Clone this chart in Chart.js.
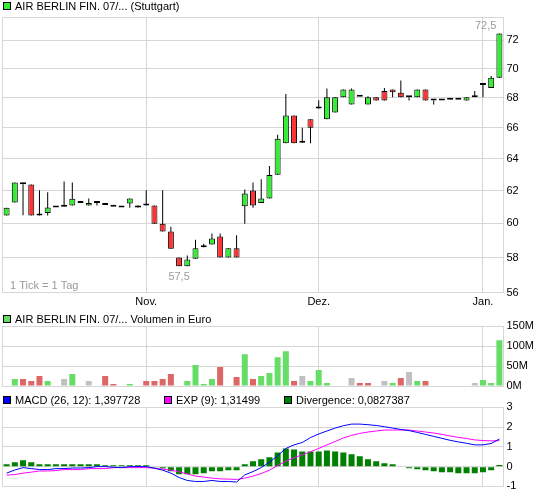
<!DOCTYPE html>
<html>
<head>
<meta charset="utf-8">
<title>AIR BERLIN FIN. 07/... (Stuttgart)</title>
<script src="https://cdn.jsdelivr.net/npm/chart.js@4/dist/chart.umd.min.js"></script>
<style>
  html, body { margin: 0; padding: 0; background: #fff; }
  #wrap { position: relative; width: 545px; height: 496px; overflow: hidden;
          font-family: "Liberation Sans", Arial, sans-serif; font-size: 11px; color: #000; }
  #wrap canvas { position: absolute; left: 0; top: 0; }
  .leg { position: absolute; white-space: nowrap; line-height: 13px; }
  .sw { position: absolute; width: 6px; height: 6px; border: 1px solid #000; }
</style>
</head>
<body>
<div id="wrap">
  <canvas id="price" width="545" height="496"></canvas>
  <canvas id="volume" width="545" height="496"></canvas>
  <canvas id="macd" width="545" height="496"></canvas>

  <div class="sw" style="left:3px;top:2px;background:#33ee33"></div>
  <div class="leg" style="left:15px;top:0px">AIR BERLIN FIN. 07/... (Stuttgart)</div>

  <div class="sw" style="left:3px;top:315px;background:#66dd66"></div>
  <div class="leg" style="left:15px;top:312.5px">AIR BERLIN FIN. 07/... Volumen in Euro</div>

  <div class="sw" style="left:3px;top:396px;background:#0000ff"></div>
  <div class="leg" id="lgMacd" style="left:15px;top:393.5px"></div>
  <div class="sw" style="left:164px;top:396px;background:#ff00ff"></div>
  <div class="leg" id="lgExp" style="left:176px;top:393.5px"></div>
  <div class="sw" style="left:284px;top:396px;background:#008000"></div>
  <div class="leg" id="lgDiv" style="left:296px;top:393.5px"></div>
</div>

<script>
// Trading days (Stuttgart), 08.10.2009 - 06.01.2010
const days = [
  '08.10.2009','09.10.2009','12.10.2009','13.10.2009','14.10.2009','15.10.2009','16.10.2009',
  '19.10.2009','20.10.2009','21.10.2009','22.10.2009','23.10.2009','26.10.2009','27.10.2009',
  '28.10.2009','29.10.2009','30.10.2009',
  '02.11.2009','03.11.2009','04.11.2009','05.11.2009','06.11.2009','09.11.2009','10.11.2009',
  '11.11.2009','12.11.2009','13.11.2009','16.11.2009','17.11.2009','18.11.2009','19.11.2009',
  '20.11.2009','23.11.2009','24.11.2009','25.11.2009','26.11.2009','27.11.2009','30.11.2009',
  '01.12.2009','02.12.2009','03.12.2009','04.12.2009','07.12.2009','08.12.2009','09.12.2009',
  '10.12.2009','11.12.2009','14.12.2009','15.12.2009','16.12.2009','17.12.2009','18.12.2009',
  '21.12.2009','22.12.2009','23.12.2009','28.12.2009','29.12.2009','30.12.2009',
  '04.01.2010','05.01.2010','06.01.2010'
];

// Daily prices (Euro)
const open = [
  60.47,61.27,62.39,62.37,60.47,60.63,60.96,61.00,61.08,61.24,61.08,61.24,61.12,61.00,
  60.96,61.20,60.96,61.08,61.08,59.98,59.52,58.00,57.50,57.92,58.60,58.76,59.23,58.00,
  58.54,61.04,62.00,61.24,61.51,62.99,64.99,66.81,65.03,66.56,67.28,66.56,67.01,68.03,
  67.55,68.07,67.55,68.03,68.46,68.57,68.35,68.03,68.03,68.57,67.82,67.82,67.86,67.86,
  67.82,68.03,68.87,68.66,69.37
];
const high = [
  60.94,62.50,62.39,62.37,62.02,61.90,60.96,62.56,62.50,61.24,61.51,61.24,61.12,61.00,
  60.96,61.51,61.08,62.02,61.08,62.02,59.81,58.00,58.12,59.03,58.80,59.40,59.40,58.54,
  59.30,62.06,62.50,62.70,63.54,65.55,68.25,66.81,66.00,66.56,67.84,68.63,68.03,68.57,
  68.63,68.07,68.10,68.03,68.66,68.57,69.19,68.03,68.57,68.57,67.82,67.82,67.86,67.86,
  68.03,68.46,68.87,69.50,72.50
];
const low = [
  60.47,61.27,60.49,60.47,60.47,60.47,60.96,61.00,61.08,61.24,61.08,61.08,61.12,61.00,
  60.96,60.94,60.96,61.08,59.98,59.52,58.51,57.50,57.50,57.92,58.60,58.76,58.00,58.00,
  58.00,59.98,60.94,61.24,61.51,62.99,64.99,64.99,65.03,64.99,67.28,66.56,67.01,68.03,
  67.55,68.07,67.55,67.82,67.82,68.03,68.03,67.82,68.03,67.82,67.55,67.82,67.86,67.86,
  67.82,68.03,68.03,68.66,69.37
];
const close = [
  60.94,62.50,62.39,60.47,60.47,60.96,60.96,61.00,61.49,61.24,61.24,61.24,61.12,61.00,
  60.96,61.51,61.08,61.08,59.98,59.52,58.51,57.50,57.89,58.54,58.60,59.11,58.00,58.54,
  58.00,61.82,61.08,61.51,62.97,65.28,66.81,64.99,65.03,66.00,67.28,68.03,68.03,68.57,
  68.57,68.07,68.03,67.82,67.82,68.37,68.03,68.03,68.57,67.82,67.82,67.82,67.86,67.86,
  68.03,68.03,68.87,69.37,72.50
];

// Turnover (Mio. Euro) and its direction versus the previous close: u = up, d = down, n = unchanged
const volume = [
  0,17.5,17.5,12.5,25,12.5,0,17.5,30,0,12.5,0,25,5,0,5,0,12.5,12.5,17.5,30,0,12.5,52.5,
  5,17.5,47.5,0,22.5,80,17.5,25,32.5,72.5,87.5,12.5,25,12.5,40,7.5,0,0,20,7.5,7.5,0,
  12.5,7.5,20,35,12.5,12.5,0,0,0,0,0,7.5,15,7.5,115
];
const volumeDir = [
  '','u','d','d','d','u','','n','u','','n','','d','d','','u','','d','d','d','d','','u','u',
  'u','u','d','','d','u','d','u','u','u','u','d','n','u','u','u','','','n','d','d','',
  'n','u','d','n','u','d','','','','','','n','u','u','u'
];

// MACD (26, 12), signal line EXP (9) and divergence
const macd = [
  -0.33,-0.17,-0.05,-0.10,-0.15,-0.15,-0.10,-0.10,-0.07,-0.07,-0.05,0.00,0.00,-0.03,
  -0.05,0.00,0.00,0.00,-0.08,-0.18,-0.33,-0.55,-0.70,-0.75,-0.75,-0.70,-0.75,-0.75,
  -0.78,-0.42,-0.25,-0.05,0.22,0.55,0.92,1.10,1.22,1.47,1.65,1.80,1.95,2.07,2.15,2.15,
  2.12,2.08,2.02,1.95,1.88,1.82,1.73,1.63,1.53,1.43,1.33,1.25,1.18,1.10,1.10,1.17,1.397728
];
const signal = [
  -0.43,-0.40,-0.33,-0.28,-0.22,-0.22,-0.20,-0.15,-0.15,-0.15,-0.10,-0.10,-0.10,-0.05,
  -0.05,-0.05,-0.05,-0.05,-0.08,-0.13,-0.18,-0.26,-0.37,-0.48,-0.53,-0.58,-0.62,-0.63,
  -0.65,-0.58,-0.48,-0.35,-0.18,0.05,0.28,0.45,0.60,0.75,0.92,1.10,1.27,1.45,1.58,1.68,
  1.75,1.80,1.85,1.85,1.85,1.85,1.80,1.75,1.70,1.63,1.55,1.48,1.42,1.35,1.32,1.30,1.31499
];
const divergence = [
  0.12,0.22,0.32,0.22,0.12,0.12,0.12,0.12,0.12,0.12,0.12,0.12,0.07,0.07,0.07,0.07,0.07,
  0.07,-0.05,-0.10,-0.23,-0.38,-0.38,-0.38,-0.33,-0.23,-0.23,-0.18,-0.18,0.12,0.27,0.37,
  0.47,0.72,0.92,0.87,0.77,0.77,0.77,0.82,0.77,0.72,0.62,0.52,0.37,0.27,0.17,0.12,0,
  -0.08,-0.13,-0.18,-0.23,-0.28,-0.28,-0.33,-0.33,-0.33,-0.28,-0.18,0.0827387
];

// Axis ticks
const priceTicks = [56, 58, 60, 62, 64, 66, 68, 70, 72];
const volumeTicks = [0, 50, 100, 150];
const macdTicks = [-1, 0, 1, 2, 3];
const monthNames = { '10': 'Okt.', '11': 'Nov.', '12': 'Dez.', '01': 'Jan.' };
const tickNote = '1 Tick = 1 Tag';

// ---- styling ----
const FONT = '"Liberation Sans", Arial, sans-serif';
const GRID = '#d6d6d6';
const NOTE = '#9a9a9a';
const UP = '#33ee33', DOWN = '#ff3333';
const VOL_COL = { u: '#66dd66', d: '#dd6666', n: '#c0c0c0', '': 'rgba(0,0,0,0)' };

Chart.defaults.font.family = FONT;
Chart.defaults.font.size = 11;
Chart.defaults.color = '#000';
Chart.defaults.animation = false;

const deNum = (v, d) => v.toFixed(d).replace('.', ',');
document.getElementById('lgMacd').textContent = 'MACD (26, 12): ' + String(macd[macd.length - 1]).replace('.', ',');
document.getElementById('lgExp').textContent = 'EXP (9): ' + String(signal[signal.length - 1]).replace('.', ',');
document.getElementById('lgDiv').textContent = 'Divergence: ' + String(divergence[divergence.length - 1]).replace('.', ',');

const monthOf = s => s.slice(3, 5);
const isMonthStart = i => i > 0 && i < days.length && monthOf(days[i]) !== monthOf(days[i - 1]);

// Shared plot geometry
const PLOT_LEFT = 2.5, AXIS_W = 41.5;

function xScale(showLabels, height) {
  return {
    offset: true,
    grid: { offset: false, drawTicks: false, lineWidth: 1,
            color: ctx => isMonthStart(ctx.index) ? GRID : 'rgba(0,0,0,0)' },
    border: { display: false },
    ticks: { display: showLabels, autoSkip: false, maxRotation: 0, minRotation: 0, padding: 3,
             callback: (v, i) => isMonthStart(i) ? monthNames[monthOf(days[i])] : '' },
    afterFit: s => { s.height = height; }
  };
}
function yScale(extra, ticks, fmt) {
  return Object.assign({
    position: 'right',
    grid: { color: GRID, drawTicks: false, lineWidth: 1 },
    border: { display: false },
    ticks: { padding: 3, callback: v => fmt(v) },
    afterBuildTicks: s => { s.ticks = ticks.map(v => ({ value: v })); },
    afterFit: s => { s.width = AXIS_W; }
  }, extra);
}

// Light frame around each plot area
const al = v => Math.round(v - 0.5) + 0.5;
const framePlugin = {
  id: 'frame',
  beforeDatasetsDraw(chart) {
    const { ctx, chartArea: a } = chart;
    ctx.save();
    ctx.strokeStyle = GRID;
    ctx.lineWidth = 1;
    ctx.strokeRect(al(a.left), al(a.top), al(a.right) - al(a.left), al(a.bottom) - al(a.top));
    ctx.restore();
  }
};

// Period high / low labels and the tick note
const extremaPlugin = {
  id: 'extrema',
  afterDatasetsDraw(chart) {
    const { ctx, chartArea: a } = chart;
    const xs = chart.scales.x, ys = chart.scales.y;
    const hi = Math.max(...high), lo = Math.min(...low);
    const iHi = high.indexOf(hi), iLo = low.indexOf(lo);
    ctx.save();
    ctx.font = '11px ' + FONT;
    ctx.fillStyle = NOTE;
    ctx.textBaseline = 'alphabetic';
    ctx.textAlign = 'right';
    ctx.fillText(deNum(hi, 1), xs.getPixelForValue(iHi) - 3, ys.getPixelForValue(hi) - 4);
    ctx.textAlign = 'center';
    ctx.fillText(deNum(lo, 1), xs.getPixelForValue(iLo), ys.getPixelForValue(lo) + 14);
    ctx.textAlign = 'left';
    ctx.fillText(tickNote, a.left + 7.5, a.bottom - 4);
    ctx.restore();
  }
};

const common = { responsive: false, devicePixelRatio: 1, animation: false,
                 plugins: { legend: { display: false }, tooltip: { enabled: false } } };

// ---- price (candlesticks on a logarithmic axis) ----
new Chart(document.getElementById('price'), {
  type: 'bar',
  data: {
    labels: days,
    datasets: [
      { data: days.map((d, i) => [low[i], high[i]]), backgroundColor: '#000',
        barThickness: 1, grouped: false, inflateAmount: 0, order: 2 },
      { data: days.map((d, i) => [open[i], close[i]]),
        backgroundColor: days.map((d, i) => close[i] > open[i] ? UP : close[i] < open[i] ? DOWN : '#000'),
        borderColor: '#000', borderWidth: 1, borderSkipped: false, barThickness: 6,
        minBarLength: 2, grouped: false, inflateAmount: 0, order: 1 }
    ]
  },
  options: Object.assign({}, common, {
    layout: { padding: { left: PLOT_LEFT, top: 17, right: 0, bottom: 186 } },
    scales: {
      x: xScale(true, 17.3),
      y: yScale({ type: 'logarithmic', min: 56, max: 73.7 }, priceTicks, v => String(v))
    }
  }),
  plugins: [framePlugin, extremaPlugin]
});

// ---- turnover ----
new Chart(document.getElementById('volume'), {
  type: 'bar',
  data: {
    labels: days,
    datasets: [{ data: volume, backgroundColor: volumeDir.map(d => VOL_COL[d]),
                 barThickness: 6, inflateAmount: 0 }]
  },
  options: Object.assign({}, common, {
    layout: { padding: { left: PLOT_LEFT, top: 326.3, right: 0, bottom: 110 } },
    scales: {
      x: xScale(false, 0),
      y: yScale({ type: 'linear', min: 0, max: 150 }, volumeTicks, v => v + 'M')
    }
  }),
  plugins: [framePlugin]
});

// ---- MACD ----
new Chart(document.getElementById('macd'), {
  type: 'bar',
  data: {
    labels: days,
    datasets: [
      { type: 'line', data: macd, borderColor: '#0000ff', borderWidth: 1, pointRadius: 0,
        tension: 0, fill: false, order: 1 },
      { type: 'line', data: signal, borderColor: '#ff00ff', borderWidth: 1, pointRadius: 0,
        tension: 0, fill: false, order: 2 },
      { type: 'bar', data: divergence, backgroundColor: '#008000', barThickness: 6,
        inflateAmount: 0, order: 3 }
    ]
  },
  options: Object.assign({}, common, {
    layout: { padding: { left: PLOT_LEFT, top: 407.3, right: 0, bottom: 8.7 } },
    scales: {
      x: xScale(false, 0),
      y: yScale({ type: 'linear', min: -1, max: 3 }, macdTicks, v => String(v))
    }
  }),
  plugins: [framePlugin]
});
</script>
</body>
</html>
